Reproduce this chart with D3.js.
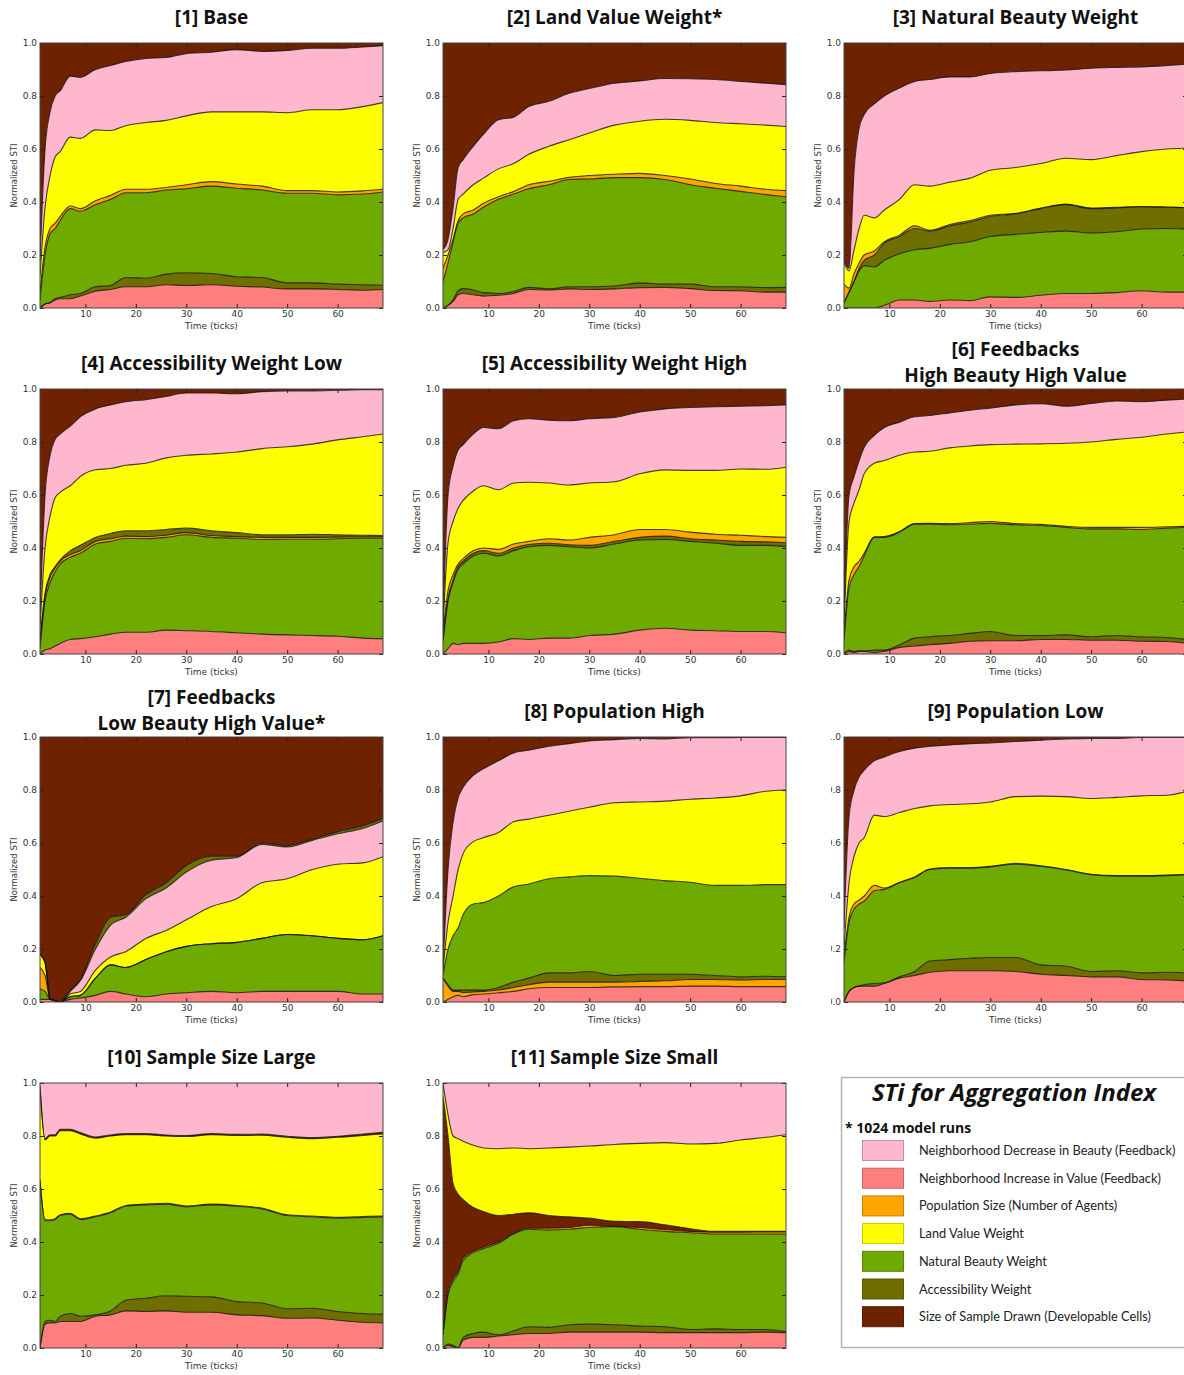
<!DOCTYPE html>
<html>
<head>
<meta charset="utf-8">
<script src="https://cdn.jsdelivr.net/npm/d3@7"></script>
<style>
  body { margin: 0; background: #fff; }
  svg text { font-family: 'DejaVu Sans', sans-serif; }
  .title { font-family: 'Open Sans', sans-serif; font-weight: bold; font-size: 19px; fill: #111; }
  .tick text { font-size: 9px; fill: #333; }
</style>
</head>
<body>
<svg id="chart" width="1184" height="1375"></svg>
<script>
const ticks = [1, 2, 3, 4, 5, 7, 9, 12, 15, 18, 22, 26, 30, 35, 40, 45, 50, 55, 60, 65, 69]

// factors, in legend order
const factorKeys = ['B', 'V', 'P', 'L', 'N', 'A', 'S']
const factorNames = [
  'Neighborhood Decrease in Beauty (Feedback)',
  'Neighborhood Increase in Value (Feedback)',
  'Population Size (Number of Agents)',
  'Land Value Weight',
  'Natural Beauty Weight',
  'Accessibility Weight',
  'Size of Sample Drawn (Developable Cells)',
]
const factorColors = ['#ffb7ce', '#ff7f7f', '#ffa500', '#ffff00', '#6faa00', '#6f6f00', '#6e2200']

// each panel: stacking order (bottom -> top) and the upper edge of every
// layer but the last one (the last layer fills up to 1.0)
const order1 = ['V', 'A', 'N', 'P', 'L', 'B', 'S']
const edges1 = [
  [0, 0.015, 0.02, 0.03, 0.035, 0.035, 0.045, 0.063, 0.07, 0.08, 0.08, 0.088, 0.085, 0.088, 0.082, 0.079, 0.072, 0.072, 0.07, 0.067, 0.07],
  [0, 0.015, 0.02, 0.035, 0.04, 0.05, 0.055, 0.08, 0.085, 0.115, 0.112, 0.128, 0.133, 0.13, 0.118, 0.115, 0.095, 0.095, 0.09, 0.088, 0.086],
  [0.03, 0.2, 0.28, 0.3, 0.33, 0.375, 0.365, 0.39, 0.41, 0.435, 0.435, 0.445, 0.45, 0.46, 0.452, 0.445, 0.433, 0.433, 0.427, 0.43, 0.438],
  [0.06, 0.23, 0.3, 0.32, 0.345, 0.385, 0.375, 0.405, 0.425, 0.448, 0.448, 0.455, 0.465, 0.477, 0.468, 0.46, 0.443, 0.443, 0.438, 0.442, 0.448],
  [0.12, 0.38, 0.5, 0.57, 0.59, 0.645, 0.64, 0.672, 0.67, 0.688, 0.7, 0.708, 0.725, 0.74, 0.74, 0.74, 0.737, 0.748, 0.748, 0.76, 0.775],
  [0.18, 0.6, 0.74, 0.8, 0.82, 0.875, 0.87, 0.9, 0.915, 0.93, 0.942, 0.945, 0.96, 0.965, 0.975, 0.968, 0.972, 0.98, 0.98, 0.985, 0.99],
]

const order2 = ['V', 'A', 'N', 'P', 'L', 'B', 'S']
const edges2 = [
  [0, 0.01, 0.025, 0.05, 0.055, 0.05, 0.045, 0.048, 0.055, 0.07, 0.068, 0.072, 0.07, 0.072, 0.077, 0.078, 0.073, 0.066, 0.065, 0.06, 0.06],
  [0, 0.01, 0.03, 0.065, 0.073, 0.068, 0.058, 0.055, 0.062, 0.078, 0.072, 0.08, 0.08, 0.083, 0.095, 0.09, 0.09, 0.08, 0.08, 0.077, 0.078],
  [0.1, 0.17, 0.25, 0.32, 0.34, 0.355, 0.38, 0.41, 0.43, 0.45, 0.465, 0.485, 0.487, 0.492, 0.492, 0.485, 0.465, 0.452, 0.44, 0.428, 0.42],
  [0.15, 0.2, 0.26, 0.33, 0.355, 0.37, 0.395, 0.42, 0.44, 0.465, 0.478, 0.493, 0.5, 0.505, 0.508, 0.5, 0.487, 0.47, 0.46, 0.448, 0.443],
  [0.21, 0.22, 0.3, 0.41, 0.43, 0.465, 0.49, 0.525, 0.545, 0.58, 0.61, 0.635, 0.66, 0.69, 0.705, 0.712, 0.708, 0.7, 0.695, 0.69, 0.685],
  [0.22, 0.26, 0.38, 0.53, 0.56, 0.61, 0.655, 0.71, 0.72, 0.76, 0.78, 0.81, 0.828, 0.848, 0.857, 0.866, 0.865, 0.862, 0.855, 0.848, 0.843],
]

const order3 = ['V', 'N', 'A', 'P', 'L', 'B', 'S']
const edges3 = [
  [0, 0, 0, 0, 0, 0, 0.01, 0.03, 0.03, 0.025, 0.03, 0.028, 0.042, 0.04, 0.048, 0.055, 0.055, 0.058, 0.065, 0.06, 0.06],
  [0.02, 0.06, 0.1, 0.14, 0.16, 0.155, 0.18, 0.205, 0.22, 0.225, 0.24, 0.25, 0.27, 0.278, 0.285, 0.29, 0.283, 0.288, 0.298, 0.3, 0.298],
  [0.02, 0.06, 0.1, 0.15, 0.18, 0.2, 0.245, 0.27, 0.3, 0.29, 0.31, 0.325, 0.345, 0.355, 0.375, 0.39, 0.375, 0.378, 0.382, 0.38, 0.378],
  [0.09, 0.075, 0.13, 0.17, 0.2, 0.215, 0.25, 0.275, 0.31, 0.293, 0.315, 0.33, 0.35, 0.357, 0.377, 0.392, 0.377, 0.38, 0.383, 0.381, 0.379],
  [0.17, 0.14, 0.22, 0.3, 0.35, 0.34, 0.37, 0.41, 0.465, 0.46, 0.475, 0.49, 0.52, 0.53, 0.545, 0.565, 0.56, 0.575, 0.59, 0.6, 0.603],
  [0.18, 0.15, 0.52, 0.68, 0.73, 0.77, 0.8, 0.83, 0.855, 0.862, 0.872, 0.872, 0.885, 0.892, 0.895, 0.898, 0.905, 0.908, 0.91, 0.915, 0.92],
]

const order4 = ['V', 'N', 'P', 'A', 'L', 'B', 'S']
const edges4 = [
  [0, 0.015, 0.02, 0.03, 0.04, 0.055, 0.058, 0.065, 0.075, 0.082, 0.082, 0.09, 0.088, 0.085, 0.08, 0.075, 0.072, 0.07, 0.067, 0.06, 0.058],
  [0.02, 0.2, 0.27, 0.31, 0.34, 0.365, 0.38, 0.415, 0.425, 0.437, 0.435, 0.44, 0.45, 0.44, 0.437, 0.432, 0.433, 0.433, 0.435, 0.437, 0.438],
  [0.05, 0.22, 0.29, 0.325, 0.35, 0.375, 0.39, 0.425, 0.435, 0.445, 0.443, 0.448, 0.458, 0.447, 0.443, 0.44, 0.44, 0.44, 0.441, 0.442, 0.443],
  [0.05, 0.23, 0.3, 0.33, 0.355, 0.39, 0.41, 0.44, 0.455, 0.465, 0.465, 0.47, 0.475, 0.465, 0.458, 0.45, 0.45, 0.452, 0.45, 0.448, 0.447],
  [0.1, 0.4, 0.52, 0.59, 0.61, 0.635, 0.67, 0.695, 0.7, 0.712, 0.72, 0.74, 0.75, 0.755, 0.762, 0.775, 0.782, 0.792, 0.808, 0.82, 0.83],
  [0.15, 0.6, 0.75, 0.81, 0.83, 0.86, 0.895, 0.925, 0.94, 0.952, 0.96, 0.972, 0.985, 0.985, 0.982, 0.99, 0.993, 0.993, 0.995, 0.997, 0.997],
]

const order5 = ['V', 'N', 'A', 'P', 'L', 'B', 'S']
const edges5 = [
  [0, 0.02, 0.04, 0.035, 0.04, 0.04, 0.04, 0.045, 0.058, 0.055, 0.06, 0.06, 0.07, 0.075, 0.09, 0.097, 0.09, 0.088, 0.085, 0.085, 0.08],
  [0.05, 0.2, 0.27, 0.32, 0.34, 0.37, 0.38, 0.37, 0.39, 0.405, 0.41, 0.405, 0.4, 0.415, 0.43, 0.432, 0.425, 0.418, 0.41, 0.41, 0.405],
  [0.05, 0.21, 0.28, 0.33, 0.35, 0.38, 0.39, 0.38, 0.4, 0.413, 0.418, 0.412, 0.41, 0.425, 0.44, 0.445, 0.435, 0.43, 0.425, 0.423, 0.42],
  [0.08, 0.24, 0.3, 0.34, 0.36, 0.39, 0.4, 0.395, 0.415, 0.425, 0.435, 0.43, 0.44, 0.45, 0.47, 0.47, 0.46, 0.452, 0.448, 0.443, 0.44],
  [0.1, 0.42, 0.5, 0.55, 0.58, 0.615, 0.635, 0.62, 0.645, 0.648, 0.645, 0.638, 0.645, 0.65, 0.68, 0.695, 0.693, 0.693, 0.698, 0.697, 0.705],
  [0.12, 0.6, 0.71, 0.77, 0.79, 0.83, 0.855, 0.85, 0.88, 0.888, 0.882, 0.88, 0.888, 0.893, 0.913, 0.925, 0.93, 0.933, 0.935, 0.937, 0.94],
]

const order6 = ['V', 'A', 'N', 'P', 'L', 'B', 'S']
const edges6 = [
  [0, 0.01, 0.005, 0.01, 0.01, 0.005, 0.01, 0.025, 0.03, 0.035, 0.04, 0.048, 0.05, 0.05, 0.055, 0.055, 0.052, 0.052, 0.048, 0.047, 0.04],
  [0, 0.015, 0.01, 0.012, 0.012, 0.015, 0.015, 0.035, 0.06, 0.065, 0.07, 0.078, 0.085, 0.07, 0.07, 0.072, 0.065, 0.07, 0.065, 0.062, 0.055],
  [0.05, 0.25, 0.3, 0.33, 0.37, 0.44, 0.44, 0.46, 0.49, 0.49, 0.488, 0.49, 0.493, 0.488, 0.485, 0.478, 0.472, 0.472, 0.47, 0.475, 0.478],
  [0.07, 0.28, 0.33, 0.35, 0.38, 0.442, 0.443, 0.462, 0.492, 0.493, 0.492, 0.496, 0.5, 0.492, 0.489, 0.482, 0.478, 0.478, 0.478, 0.48, 0.482],
  [0.1, 0.5, 0.57, 0.62, 0.68, 0.72, 0.73, 0.75, 0.762, 0.765, 0.778, 0.785, 0.79, 0.792, 0.793, 0.795, 0.8, 0.81, 0.818, 0.83, 0.838],
  [0.15, 0.6, 0.67, 0.73, 0.78, 0.825, 0.855, 0.875, 0.895, 0.9, 0.91, 0.92, 0.928, 0.94, 0.945, 0.935, 0.945, 0.955, 0.952, 0.958, 0.962],
]

const order7 = ['V', 'N', 'P', 'L', 'B', 'A', 'S']
const edges7 = [
  [0.01, 0.01, 0.01, 0.005, 0, 0.01, 0.015, 0.025, 0.04, 0.03, 0.02, 0.03, 0.035, 0.04, 0.035, 0.04, 0.04, 0.04, 0.04, 0.03, 0.03],
  [0.05, 0.04, 0.01, 0.005, 0, 0.02, 0.025, 0.09, 0.14, 0.13, 0.16, 0.19, 0.21, 0.22, 0.225, 0.24, 0.255, 0.25, 0.24, 0.235, 0.25],
  [0.13, 0.1, 0.01, 0.005, 0, 0.02, 0.025, 0.09, 0.14, 0.13, 0.16, 0.19, 0.21, 0.22, 0.225, 0.24, 0.255, 0.25, 0.24, 0.235, 0.25],
  [0.18, 0.15, 0.012, 0.005, 0, 0.03, 0.04, 0.12, 0.17, 0.19, 0.24, 0.27, 0.31, 0.36, 0.39, 0.45, 0.465, 0.5, 0.52, 0.525, 0.548],
  [0.18, 0.15, 0.012, 0.005, 0, 0.04, 0.08, 0.2, 0.29, 0.32, 0.39, 0.43, 0.49, 0.535, 0.545, 0.595, 0.585, 0.61, 0.635, 0.655, 0.683],
  [0.18, 0.15, 0.015, 0.005, 0, 0.045, 0.085, 0.22, 0.32, 0.33, 0.405, 0.45, 0.515, 0.55, 0.55, 0.6, 0.59, 0.615, 0.643, 0.665, 0.693],
]

const order8 = ['V', 'P', 'A', 'N', 'L', 'B', 'S']
const edges8 = [
  [0, 0.01, 0.02, 0.025, 0.02, 0.028, 0.03, 0.035, 0.04, 0.05, 0.055, 0.055, 0.055, 0.057, 0.058, 0.058, 0.06, 0.06, 0.058, 0.058, 0.058],
  [0.09, 0.06, 0.04, 0.04, 0.035, 0.038, 0.04, 0.045, 0.055, 0.065, 0.075, 0.075, 0.075, 0.075, 0.078, 0.08, 0.085, 0.085, 0.083, 0.085, 0.085],
  [0.09, 0.065, 0.045, 0.045, 0.045, 0.045, 0.045, 0.055, 0.075, 0.09, 0.11, 0.11, 0.115, 0.1, 0.105, 0.105, 0.105, 0.1, 0.095, 0.097, 0.095],
  [0.1, 0.2, 0.25, 0.28, 0.33, 0.37, 0.375, 0.4, 0.435, 0.445, 0.465, 0.472, 0.477, 0.475, 0.467, 0.458, 0.452, 0.44, 0.44, 0.443, 0.443],
  [0.12, 0.3, 0.4, 0.5, 0.56, 0.605, 0.62, 0.64, 0.68, 0.69, 0.705, 0.72, 0.735, 0.752, 0.755, 0.758, 0.765, 0.77, 0.778, 0.795, 0.8],
  [0.13, 0.5, 0.68, 0.77, 0.81, 0.855, 0.88, 0.91, 0.94, 0.95, 0.965, 0.975, 0.985, 0.99, 0.995, 0.993, 0.997, 0.997, 0.998, 0.998, 0.998],
]

const order9 = ['V', 'A', 'N', 'P', 'L', 'B', 'S']
const edges9 = [
  [0, 0.04, 0.055, 0.06, 0.06, 0.06, 0.07, 0.09, 0.1, 0.112, 0.118, 0.118, 0.118, 0.115, 0.105, 0.1, 0.095, 0.095, 0.085, 0.083, 0.08],
  [0, 0.04, 0.055, 0.06, 0.065, 0.07, 0.072, 0.095, 0.115, 0.155, 0.16, 0.165, 0.168, 0.168, 0.14, 0.135, 0.115, 0.118, 0.11, 0.112, 0.11],
  [0.15, 0.3, 0.35, 0.37, 0.38, 0.42, 0.425, 0.45, 0.47, 0.5, 0.505, 0.505, 0.51, 0.52, 0.512, 0.498, 0.48, 0.475, 0.475, 0.477, 0.48],
  [0.17, 0.32, 0.37, 0.385, 0.4, 0.44, 0.43, 0.452, 0.472, 0.502, 0.507, 0.507, 0.512, 0.523, 0.514, 0.5, 0.482, 0.477, 0.477, 0.479, 0.482],
  [0.2, 0.45, 0.55, 0.6, 0.62, 0.705, 0.7, 0.715, 0.73, 0.74, 0.745, 0.748, 0.755, 0.775, 0.777, 0.775, 0.768, 0.772, 0.778, 0.78, 0.795],
  [0.28, 0.7, 0.8, 0.85, 0.875, 0.91, 0.925, 0.945, 0.958, 0.965, 0.97, 0.975, 0.978, 0.983, 0.988, 0.993, 0.995, 0.995, 0.998, 0.998, 0.998],
]

const order10 = ['V', 'A', 'N', 'P', 'L', 'S', 'B']
const edges10 = [
  [0, 0.09, 0.095, 0.095, 0.1, 0.1, 0.1, 0.12, 0.125, 0.14, 0.138, 0.14, 0.135, 0.135, 0.125, 0.122, 0.112, 0.113, 0.105, 0.097, 0.095],
  [0, 0.1, 0.105, 0.1, 0.12, 0.13, 0.12, 0.125, 0.14, 0.18, 0.188, 0.197, 0.195, 0.193, 0.175, 0.17, 0.148, 0.15, 0.138, 0.13, 0.128],
  [0.63, 0.48, 0.48, 0.485, 0.5, 0.505, 0.485, 0.495, 0.51, 0.535, 0.54, 0.543, 0.533, 0.54, 0.535, 0.525, 0.5, 0.495, 0.49, 0.493, 0.495],
  [0.635, 0.485, 0.484, 0.488, 0.503, 0.508, 0.488, 0.498, 0.513, 0.538, 0.543, 0.546, 0.536, 0.543, 0.538, 0.528, 0.503, 0.498, 0.493, 0.496, 0.498],
  [0.98, 0.785, 0.8, 0.8, 0.82, 0.82, 0.808, 0.792, 0.8, 0.805, 0.805, 0.8, 0.798, 0.805, 0.802, 0.803, 0.795, 0.79, 0.795, 0.802, 0.808],
  [0.99, 0.79, 0.805, 0.805, 0.825, 0.825, 0.813, 0.796, 0.804, 0.809, 0.809, 0.804, 0.802, 0.809, 0.806, 0.807, 0.799, 0.794, 0.799, 0.807, 0.814],
]

const order11 = ['V', 'A', 'N', 'P', 'S', 'L', 'B']
const edges11 = [
  [0, 0.01, 0.005, 0, 0.03, 0.04, 0.04, 0.045, 0.05, 0.055, 0.055, 0.06, 0.06, 0.06, 0.06, 0.058, 0.058, 0.058, 0.058, 0.06, 0.058],
  [0, 0.015, 0.01, 0, 0.04, 0.055, 0.06, 0.05, 0.065, 0.08, 0.078, 0.088, 0.09, 0.088, 0.083, 0.08, 0.07, 0.072, 0.07, 0.07, 0.062],
  [0.05, 0.2, 0.25, 0.28, 0.33, 0.36, 0.375, 0.395, 0.43, 0.448, 0.445, 0.448, 0.455, 0.458, 0.448, 0.44, 0.435, 0.43, 0.43, 0.43, 0.43],
  [0.05, 0.21, 0.26, 0.29, 0.34, 0.365, 0.38, 0.4, 0.433, 0.452, 0.452, 0.455, 0.463, 0.46, 0.455, 0.447, 0.44, 0.437, 0.437, 0.438, 0.438],
  [0.95, 0.8, 0.62, 0.58, 0.56, 0.53, 0.515, 0.5, 0.505, 0.51, 0.5, 0.495, 0.49, 0.478, 0.477, 0.465, 0.45, 0.44, 0.44, 0.44, 0.44],
  [1.0, 0.88, 0.8, 0.79, 0.78, 0.765, 0.755, 0.752, 0.755, 0.752, 0.755, 0.758, 0.762, 0.768, 0.772, 0.775, 0.77, 0.772, 0.785, 0.795, 0.805],
]

const panelTitles = [
  ['[1] Base'],
  ['[2] Land Value Weight*'],
  ['[3] Natural Beauty Weight'],
  ['[4] Accessibility Weight Low'],
  ['[5] Accessibility Weight High'],
  ['[6] Feedbacks', 'High Beauty High Value'],
  ['[7] Feedbacks', 'Low Beauty High Value*'],
  ['[8] Population High'],
  ['[9] Population Low'],
  ['[10] Sample Size Large'],
  ['[11] Sample Size Small'],
]
const panelOrders = [order1, order2, order3, order4, order5, order6, order7, order8, order9, order10, order11]
const panelEdges = [edges1, edges2, edges3, edges4, edges5, edges6, edges7, edges8, edges9, edges10, edges11]

const yTicks = [0, 0.2, 0.4, 0.6, 0.8, 1.0]
const xTicks = [10, 20, 30, 40, 50, 60]

// layout
const colX = [40, 443, 844]
const rowY = [43, 389, 737, 1083]
const plotW = 343
const plotH = 265

const svg = d3.select('#chart')
const color = d3.scaleOrdinal().domain(factorKeys).range(factorColors)

const x = d3.scaleLinear().domain([1, 69]).range([0, plotW])
const y = d3.scaleLinear().domain([0, 1]).range([plotH, 0])

panelTitles.forEach((title, p) => {
  let col = p % 3
  let row = Math.floor(p / 3)
  let order = panelOrders[p]
  let edges = panelEdges[p]

  let g = svg.append('g').attr('transform', `translate(${colX[col]},${rowY[row]})`)

  // panel 9 is cut off on the left in the original collage
  if (p == 8) {
    svg.append('clipPath').attr('id', 'cut9')
      .append('rect').attr('x', -13).attr('y', -60).attr('width', 400).attr('height', 400)
    g.attr('clip-path', 'url(#cut9)')
  }

  svg.append('clipPath').attr('id', 'plot' + p)
    .append('rect').attr('width', plotW).attr('height', plotH)

  let inner = g.append('g').attr('clip-path', `url(#plot${p})`)

  // stacked layers
  order.forEach((key, i) => {
    let lower = i == 0 ? ticks.map(() => 0) : edges[i - 1]
    let upper = i == order.length - 1 ? ticks.map(() => 1) : edges[i]
    let area = d3.area()
      .x((d, j) => x(ticks[j]))
      .y0((d, j) => y(lower[j]))
      .y1((d, j) => y(upper[j]))
      .curve(d3.curveMonotoneX)
    inner.append('path')
      .datum(ticks)
      .attr('d', area)
      .attr('fill', color(key))
  })

  // dark outlines on the layer edges
  edges.forEach(edge => {
    let line = d3.line()
      .x((d, j) => x(ticks[j]))
      .y(d => y(d))
      .curve(d3.curveMonotoneX)
    inner.append('path')
      .datum(edge)
      .attr('d', line)
      .attr('fill', 'none')
      .attr('stroke', '#111')
      .attr('stroke-opacity', 0.8)
      .attr('stroke-width', 1.1)
  })

  // axes, ticks pointing inward like matplotlib
  g.append('g')
    .call(d3.axisLeft(y).tickValues(yTicks).tickFormat(d3.format('.1f'))
      .tickSizeInner(-4).tickSizeOuter(0).tickPadding(3))
  g.append('g').attr('transform', `translate(${plotW},0)`)
    .call(d3.axisRight(y).tickValues(yTicks).tickFormat('')
      .tickSizeInner(-4).tickSizeOuter(0))
  g.append('g').attr('transform', `translate(0,${plotH})`)
    .call(d3.axisBottom(x).tickValues(xTicks)
      .tickSizeInner(-4).tickSizeOuter(0).tickPadding(3))
  g.append('g')
    .call(d3.axisTop(x).tickValues(xTicks).tickFormat('')
      .tickSizeInner(-4).tickSizeOuter(0))
  g.selectAll('.domain').remove()
  g.selectAll('.tick line').attr('stroke', '#222')

  g.append('rect')
    .attr('width', plotW)
    .attr('height', plotH)
    .attr('fill', 'none')
    .attr('stroke', '#444')
    .attr('stroke-width', 1)

  // axis labels
  g.append('text')
    .attr('x', plotW / 2)
    .attr('y', plotH + 21)
    .attr('text-anchor', 'middle')
    .attr('font-size', 9)
    .attr('fill', '#333')
    .text('Time (ticks)')

  g.append('text')
    .attr('transform', `translate(-23,${plotH / 2}) rotate(-90)`)
    .attr('text-anchor', 'middle')
    .attr('font-size', 8.5)
    .attr('fill', '#333')
    .text('Normalized STI')

  // title (one or two lines)
  let tt = g.append('text')
    .attr('class', 'title')
    .attr('text-anchor', 'middle')
  if (title.length == 1) {
    tt.attr('x', plotW / 2).attr('y', -19).text(title[0])
  } else {
    title.forEach((t, k) => {
      tt.append('tspan').attr('x', plotW / 2).attr('y', k == 0 ? -33 : -7).text(t)
    })
  }
})

// legend box
let lg = svg.append('g')
lg.append('rect')
  .attr('x', 841.5).attr('y', 1077.5)
  .attr('width', 360).attr('height', 270)
  .attr('fill', '#fff')
  .attr('stroke', '#b4b4b4')
  .attr('stroke-width', 1.5)

lg.append('text')
  .attr('x', 1014).attr('y', 1101)
  .attr('text-anchor', 'middle')
  .style('font-family', "'Open Sans', sans-serif")
  .style('font-weight', 'bold')
  .style('font-style', 'italic')
  .style('font-size', '24px')
  .attr('fill', '#111')
  .text('STi for Aggregation Index')

lg.append('text')
  .attr('x', 845).attr('y', 1133)
  .style('font-family', "'Open Sans', sans-serif")
  .style('font-weight', 'bold')
  .style('font-size', '14px')
  .attr('fill', '#111')
  .text('* 1024 model runs')

let rows = lg.selectAll('g.item')
  .data(factorKeys)
  .join('g')
  .attr('class', 'item')
  .attr('transform', (d, i) => `translate(0,${1140 + i * 27.7})`)

rows.append('rect')
  .attr('x', 862.5).attr('y', 0.5)
  .attr('width', 41).attr('height', 20)
  .attr('fill', d => color(d))
  .attr('stroke', d => d3.color(color(d)).darker(0.7))
  .attr('stroke-width', 1)

rows.append('text')
  .attr('x', 919).attr('y', 15)
  .style('font-family', 'Lato, sans-serif')
  .style('font-size', '12.8px')
  .attr('fill', '#222')
  .text((d, i) => factorNames[i])
</script>
</body>
</html>
